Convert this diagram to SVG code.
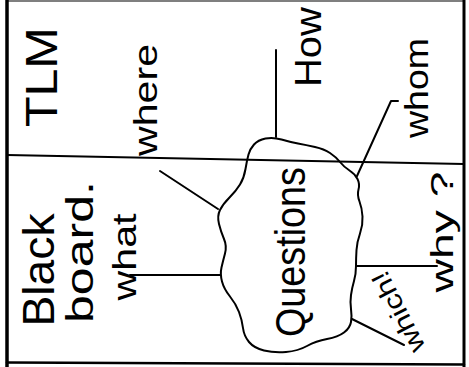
<svg xmlns="http://www.w3.org/2000/svg" width="469" height="367" viewBox="0 0 469 367">
<style>
.bg{fill:#fff}
.frame{stroke:#000;fill:none;stroke-linecap:round}
.conn line,.conn polyline{stroke:#000;stroke-width:2;fill:none;stroke-linecap:round;stroke-linejoin:round}
.cloud{fill:none;stroke:#000;stroke-width:2;stroke-linejoin:round}
text{font-family:"Liberation Sans","DejaVu Sans",sans-serif;fill:#000;text-anchor:middle}
</style>
<rect class="bg" x="0" y="0" width="469" height="367"/>
<g id="frame">
<line class="frame" x1="7" y1="0" x2="7" y2="367" stroke-width="3.5"/>
<line class="frame" x1="464" y1="0" x2="464" y2="367" stroke-width="3"/>
<line class="frame" x1="7" y1="1" x2="464" y2="1" stroke-width="1.2"/>
<line class="frame" x1="7" y1="362.5" x2="464" y2="364.5" stroke-width="2.5"/>
<line class="frame" x1="7" y1="155" x2="464" y2="164" stroke-width="2.2"/>
</g>
<g id="connectors" class="conn">
<line x1="160" y1="171" x2="218" y2="209"/>
<line x1="130" y1="275" x2="220" y2="275"/>
<line x1="276" y1="50" x2="276" y2="137"/>
<polyline points="357,176 391,101 398,101"/>
<line x1="356" y1="266" x2="437" y2="266"/>
<line x1="352" y1="319" x2="404" y2="345"/>
</g>
<g id="node-questions">
<path class="cloud" d="M248.5,154.5 Q247,160 245.5,169 Q244,178 240,184.5 Q236,191 229.5,197.5 Q223,204 220,210 Q217,216 219,224 Q221,232 224,239 Q227,246 225,253.5 Q223,261 221.5,267.5 Q220,274 222,281.5 Q224,289 230,296.5 Q236,304 239,312 Q242,320 243,328 Q244,336 249,342 Q254,348 264,350.5 Q274,353 286,352 Q298,351 307,346 Q316,341 327,339 Q338,337 344,332.5 Q350,328 351,322 Q352,316 351,309 Q350,302 351,295 Q352,288 354,281 Q356,274 356,266 Q356,258 356.5,250 Q357,242 360,233.5 Q363,225 362.5,216.5 Q362,208 359.5,201.5 Q357,195 358.5,189.5 Q360,184 357.5,179 Q355,174 349.5,170.5 Q344,167 340,162 Q336,157 330,153 Q324,149 315,147 Q306,145 298,143.5 Q290,142 281.5,139.5 Q273,137 265.5,138.5 Q258,140 254,144.5 Q250,149 248.5,154.5 Z"/>
<text transform="translate(305,252) rotate(-90)" font-size="42" textLength="170" lengthAdjust="spacingAndGlyphs">Questions</text>
</g>
<g id="node-tlm">
<text transform="translate(57,77) rotate(-90)" font-size="44" textLength="100" lengthAdjust="spacingAndGlyphs">TLM</text>
</g>
<g id="node-where">
<text transform="translate(157,100) rotate(-90)" font-size="34" textLength="112" lengthAdjust="spacingAndGlyphs">where</text>
</g>
<g id="node-how">
<text transform="translate(321,47) rotate(-90)" font-size="36" textLength="80" lengthAdjust="spacingAndGlyphs">How</text>
</g>
<g id="node-whom">
<text transform="translate(428,88) rotate(-90)" font-size="34" textLength="100" lengthAdjust="spacingAndGlyphs">whom</text>
</g>
<g id="node-blackboard">
<text transform="translate(54,270) rotate(-90)" font-size="44" textLength="113" lengthAdjust="spacingAndGlyphs">Black</text>
<text transform="translate(93,252) rotate(-90)" font-size="38" textLength="142" lengthAdjust="spacingAndGlyphs">board.</text>
</g>
<g id="node-what">
<text transform="translate(136,257) rotate(-90)" font-size="34" textLength="87" lengthAdjust="spacingAndGlyphs">what</text>
</g>
<g id="node-why">
<text transform="translate(453,232) rotate(-90)" font-size="32" textLength="121" lengthAdjust="spacingAndGlyphs">why ?</text>
</g>
<g id="node-which">
<text transform="translate(398,312) rotate(-117)" font-size="26" dominant-baseline="central" textLength="88" lengthAdjust="spacingAndGlyphs">which!</text>
</g>
</svg>
